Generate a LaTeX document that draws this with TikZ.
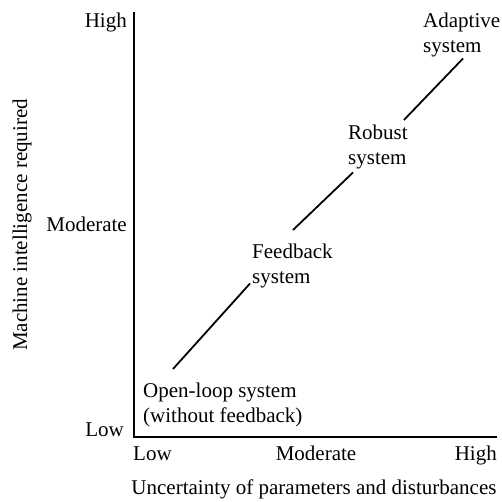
\documentclass[tikz,border=0pt]{standalone}
\usepackage{fontspec}
\setmainfont{Liberation Serif}
\usetikzlibrary{calc}

\begin{document}
\begin{tikzpicture}[x=1pt,y=1pt,
  every node/.style={font=\fontsize{21}{25}\selectfont,inner sep=0pt},
  lbl/.style={align=left,anchor=north west},
  axis/.style={line width=1.5pt},
  trend/.style={line width=1.8pt}]
  \useasboundingbox (0,0) rectangle (501,502);
  % axes
  \coordinate (O) at (134,65);
  \coordinate (Ytop) at (134,490);
  \coordinate (Xend) at (497,65);
  \draw[axis] (Ytop)--(O)--(Xend);
  % scale words
  \node[anchor=base east] (yhigh) at (127,474){High};
  \node[anchor=base east] (ymod) at (127,270){Moderate};
  \node[anchor=base east] (ylow) at (124,65){Low};
  \node[anchor=base west] (xlow) at (133,41){Low};
  \node[anchor=base] (xmod) at (316,41){Moderate};
  \node[anchor=base east] (xhigh) at (497,41){High};
  \node[anchor=base] (xtitle) at (314,7){Uncertainty of parameters and disturbances};
  \node[anchor=base,rotate=90] (ytitle) at (27,277){Machine intelligence required};
  % systems
  \node[lbl] (ol) at (143,119){Open-loop system\\(without feedback)};
  \node[lbl] (fb) at (252,258){Feedback\\system};
  \node[lbl] (rb) at (348,377){Robust\\system};
  \node[lbl] (ad) at (423,489){Adaptive\\system};
  \draw[trend] ([shift={(30,14)}]ol.north west)--([shift={(-2,5)}]fb.south west);
  \draw[trend] ([shift={(41,14)}]fb.north west)--([shift={(5,-3)}]rb.south west);
  \draw[trend] ([shift={(-4,5)}]rb.north east)--([shift={(40,-1)}]ad.south west);
\end{tikzpicture}
\end{document}
